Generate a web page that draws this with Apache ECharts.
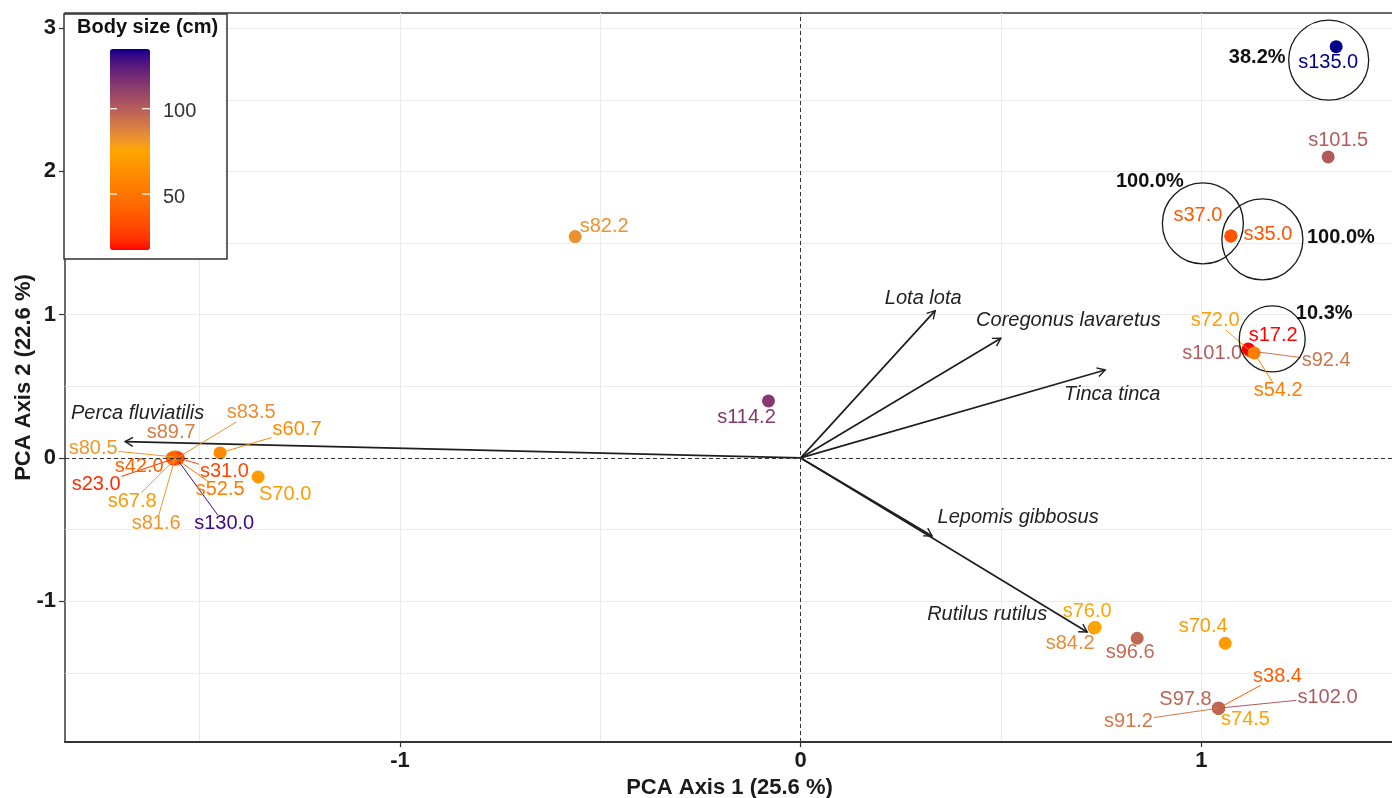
<!DOCTYPE html>
<html>
<head>
<meta charset="utf-8">
<script src="https://cdn.jsdelivr.net/npm/echarts@6/dist/echarts.min.js"></script>
<style>html,body{margin:0;padding:0;background:#fff}#chart{width:1392px;height:798px}</style>
</head>
<body>
<div id="chart"></div>
<script>
// ---------------- DATA ----------------
const sampleLabels = ['s81.6','s130.0','s80.5','s89.7','s83.5','s67.8','s52.5','s23.0','s31.0','s42.0',
  's60.7','S70.0','s82.2','s114.2','s135.0','s101.5','s37.0','s35.0',
  's101.0','s72.0','s92.4','s17.2','s54.2',
  's84.2','s76.0','s96.6','s70.4',
  's91.2','s38.4','s74.5','s102.0','S97.8'];
const bodySize = [81.6,130.0,80.5,89.7,83.5,67.8,52.5,23.0,31.0,42.0,
  60.7,70.0,82.2,114.2,135.0,101.5,37.0,35.0,
  101.0,72.0,92.4,17.2,54.2,
  84.2,76.0,96.6,70.4,
  91.2,38.4,74.5,102.0,97.8];
const pc1 = [-1.561,-1.5585,-1.5635,-1.5585,-1.556,-1.561,-1.5585,-1.566,-1.553,-1.5685,
  -1.449,-1.354,-0.5628,-0.0804,1.3364,1.3164,1.0736,1.0736,
  1.1218,1.1218,1.1218,1.1168,1.1317,
  0.7325,0.735,0.8398,1.0594,
  1.0427,1.0427,1.0427,1.0427,1.0427];
const pc2 = [0.000,0.000,0.007,0.007,0.000,-0.007,-0.007,-0.007,0.000,0.000,
  0.035,-0.133,1.545,0.398,2.871,2.101,1.550,1.550,
  0.747,0.747,0.747,0.761,0.733,
  -1.187,-1.182,-1.2586,-1.2935,
  -1.747,-1.747,-1.747,-1.747,-1.747];

const arrowNames = ['Perca fluviatilis','Lota lota','Coregonus lavaretus','Tinca tinca','Lepomis gibbosus','Rutilus rutilus'];
const arrowPC1 = [-1.686, 0.3357, 0.4996, 0.760, 0.328, 0.715];
const arrowPC2 = [0.114, 1.028, 0.8356, 0.614, -0.545, -1.215];

const highlightLabels = ['s135.0','s37.0','s35.0','s17.2'];
const highlightPct = [38.2, 100.0, 100.0, 10.3];

const xTickValues = [-1, 0, 1];
const yTickValues = [-1, 0, 1, 2, 3];
const xGridValues = [-1.5, -1, -0.5, 0, 0.5, 1];
const yGridValues = [-1.5, -1, -0.5, 0, 0.5, 1, 1.5, 2, 2.5, 3];
const legendTicks = [50, 100];
const xTitle = 'PCA Axis 1 (25.6 %)';
const yTitle = 'PCA Axis 2 (22.6 %)';
const legendTitle = 'Body size (cm)';

// ---------------- LAYOUT / STYLE ----------------
const FONT = 'Liberation Sans, Arial, sans-serif';
const X_MIN = -1.836, X_MAX = 1.4807, Y_MIN = -1.983, Y_MAX = 3.106;
const SIZE_MIN = 17.2, SIZE_MAX = 135.0;
// label offsets in pixels relative to each point (repel-like placement)
const labelOffsets = [[-19,66],[48,66],[-81,-8],[-5,-24],[74,-45],[-43,43],[44,31],[-77,26],[46,14],[-33,9],
  [77,-23],[27,17],[29,-10],[-22,16.5],[-8,16],[10,-16],[-33,-20.5],[37,-1],
  [-38,3],[-35,-30],[76,10],[25,-13],[24,38],
  [-24,16],[-8,-16],[-7,14],[-22,-17],
  [-90,13],[59,-32],[27,11],[109,-11],[-33,-9]];
const leaderLines = [1,1,1,0,1,1,1,1,1,0, 1,0,0,0,0,0,0,0, 0,1,1,0,1, 0,0,0,0, 1,1,0,1,0];
// circle: offset from label centre, radius; pct label offset from circle centre
const circleLayout = [
  {c:[0.5,-2.5], r:40, p:[-71.5,-2.5]},
  {c:[5,8], r:40.5, p:[-53,-41.5]},
  {c:[-5.5,4.5], r:40.5, p:[78.5,-1.5]},
  {c:[-1,3], r:33, p:[52,-25]}
];
const arrowLabelOffsets = [[12.5,-28],[-12,-12],[67.5,-18],[7,24],[86,-18.5],[-100,-18]];
const legendBox = {x:64, y:14, w:163, h:245, barX:110, barY:49, barW:40, barH:201};

// ---------------- COLOUR (CIELAB ramp red -> orange -> darkblue) ----------------
function s2l(c){c/=255;return c<=0.04045?c/12.92:Math.pow((c+0.055)/1.055,2.4);}
function l2s(c){const v=c<=0.0031308?12.92*c:1.055*Math.pow(c,1/2.4)-0.055;return Math.round(Math.max(0,Math.min(1,v))*255);}
function hexToLab(h){
  const r=s2l(parseInt(h.substr(1,2),16)),g=s2l(parseInt(h.substr(3,2),16)),b=s2l(parseInt(h.substr(5,2),16));
  const X=(0.4124*r+0.3576*g+0.1805*b)/0.95047,Y=(0.2126*r+0.7152*g+0.0722*b),Z=(0.0193*r+0.1192*g+0.9505*b)/1.08883;
  const f=t=>t>0.008856?Math.cbrt(t):7.787*t+16/116;
  const fx=f(X),fy=f(Y),fz=f(Z);
  return [116*fy-16,500*(fx-fy),200*(fy-fz)];
}
function labToHex(L,a,b){
  const fy=(L+16)/116,fx=fy+a/500,fz=fy-b/200;
  const fi=f=>{const c=f*f*f;return c>0.008856?c:(f-16/116)/7.787;};
  const X=0.95047*fi(fx),Y=fi(fy),Z=1.08883*fi(fz);
  const r=3.2406*X-1.5372*Y-0.4986*Z,g=-0.9689*X+1.8758*Y+0.0415*Z,bb=0.0557*X-0.2040*Y+1.0570*Z;
  const hx=v=>('0'+l2s(v).toString(16)).slice(-2);
  return '#'+hx(r)+hx(g)+hx(bb);
}
const rampLab = ['#FF0000','#FFA500','#00008B'].map(hexToLab);
function rampColor(t){
  t=Math.max(0,Math.min(1,t));
  const seg=t<0.5?0:1, u=(t-seg*0.5)/0.5;
  const A=rampLab[seg],B=rampLab[seg+1];
  return labToHex(A[0]+(B[0]-A[0])*u,A[1]+(B[1]-A[1])*u,A[2]+(B[2]-A[2])*u);
}
function sizeColor(v){return rampColor((v-SIZE_MIN)/(SIZE_MAX-SIZE_MIN));}
const rampStops=[];for(let k=0;k<=40;k++)rampStops.push(rampColor(k/40));

function textWidth(s){let w=0;for(const ch of s){w+= ch==='.'?5.56:(ch==='s'?10:(ch==='S'?13.34:11.12));}return w;}

// ---------------- CHART ----------------
const chart = echarts.init(document.getElementById('chart'));
const pointData = sampleLabels.map((n,i)=>[pc1[i],pc2[i],bodySize[i]]);
const labelData = sampleLabels.map((n,i)=>[pc1[i],pc2[i],i]);
const arrowData = arrowNames.map((n,i)=>[arrowPC1[i],arrowPC2[i],i]);

const axisTitleStyle = {fontSize:22,fontWeight:'bold',color:'#1a1a1a',fontFamily:FONT};
const tickLabelStyle = {fontSize:22,fontWeight:'bold',color:'#1a1a1a',fontFamily:FONT};
const gridLine = {show:true,lineStyle:{color:'#ebebeb',width:1}};

function legendY(v){return legendBox.barY+(SIZE_MAX-v)/(SIZE_MAX-SIZE_MIN)*legendBox.barH;}
const legendGraphics = [
  {type:'rect',shape:{x:legendBox.x,y:legendBox.y,width:legendBox.w,height:legendBox.h},style:{fill:'#fff',stroke:'#333',lineWidth:1.5},z:3},
  {type:'text',x:legendBox.x+13,y:legendBox.y+13,style:{text:legendTitle,fontSize:20,fontWeight:'bold',fontFamily:FONT,fill:'#111',align:'left',verticalAlign:'middle'},z:10}
];
legendTicks.forEach(v=>{
  const y=legendY(v);
  legendGraphics.push({type:'line',shape:{x1:legendBox.barX,y1:y,x2:legendBox.barX+7,y2:y},style:{stroke:'#fff',lineWidth:1.2},z:10});
  legendGraphics.push({type:'line',shape:{x1:legendBox.barX+legendBox.barW-8,y1:y,x2:legendBox.barX+legendBox.barW,y2:y},style:{stroke:'#fff',lineWidth:1.2},z:10});
  legendGraphics.push({type:'text',x:legendBox.barX+legendBox.barW+13,y:y+3,style:{text:String(v),fontSize:20,fontFamily:FONT,fill:'#333',align:'left',verticalAlign:'middle'},z:10});
});

const option = {
  animation:false,
  backgroundColor:'#fff',
  grid:{left:65,top:13,right:-2,bottom:56,show:true,borderColor:'#3a3a3a',borderWidth:1.5,backgroundColor:'#fff',outerBoundsMode:'none'},
  xAxis:[{
    type:'value',min:X_MIN,max:X_MAX,
    axisLine:{show:true,onZero:false,lineStyle:{color:'#333',width:2}},
    axisTick:{show:true,customValues:xTickValues,length:5,lineStyle:{color:'#333',width:1.2}},
    axisLabel:{customValues:xTickValues,margin:8,...tickLabelStyle},
    splitLine:{show:false},
    name:xTitle,nameLocation:'middle',nameGap:30,nameTextStyle:axisTitleStyle
  },{
    type:'value',min:X_MIN,max:X_MAX,position:'top',
    axisLine:{show:false},axisTick:{show:false,customValues:xGridValues},axisLabel:{show:false},
    splitLine:gridLine
  }],
  yAxis:[{
    type:'value',min:Y_MIN,max:Y_MAX,
    axisLine:{show:false,onZero:false},
    axisTick:{show:true,customValues:yTickValues,length:6,lineStyle:{color:'#333',width:1.2}},
    axisLabel:{customValues:yTickValues,margin:9,...tickLabelStyle},
    splitLine:{show:false},
    name:yTitle,nameLocation:'middle',nameGap:30,nameMoveOverlap:false,nameTextStyle:axisTitleStyle
  },{
    type:'value',min:Y_MIN,max:Y_MAX,position:'right',
    axisLine:{show:false},axisTick:{show:false,customValues:yGridValues},axisLabel:{show:false},
    splitLine:gridLine
  }],
  visualMap:{
    type:'continuous',min:SIZE_MIN,max:SIZE_MAX,dimension:2,seriesIndex:1,
    left:legendBox.barX,top:legendBox.barY,itemWidth:legendBox.barW,itemHeight:legendBox.barH,
    padding:0,calculable:false,hoverLink:false,showLabel:false,
    inRange:{color:rampStops},z:5
  },
  graphic:legendGraphics,
  series:[
    {
      type:'custom',name:'arrows',xAxisIndex:0,yAxisIndex:0,z:2,silent:true,
      data:arrowData,encode:{x:0,y:1},
      renderItem:function(params,api){
        const i=api.value(2);
        const p0=api.coord([0,0]),p1=api.coord([api.value(0),api.value(1)]);
        const ang=Math.atan2(p1[1]-p0[1],p1[0]-p0[0]);
        const L=9,A=Math.PI/6;
        const a1=[p1[0]-L*Math.cos(ang-A),p1[1]-L*Math.sin(ang-A)];
        const a2=[p1[0]-L*Math.cos(ang+A),p1[1]-L*Math.sin(ang+A)];
        const off=arrowLabelOffsets[i];
        return {type:'group',children:[
          {type:'line',shape:{x1:p0[0],y1:p0[1],x2:p1[0],y2:p1[1]},style:{stroke:'#1e1e1e',lineWidth:1.7}},
          {type:'polyline',shape:{points:[a1,p1,a2]},style:{stroke:'#1e1e1e',lineWidth:1.4,fill:null}},
          {type:'text',x:p1[0]+off[0],y:p1[1]+off[1],style:{text:arrowNames[i],fontSize:20,fontStyle:'italic',fontFamily:FONT,fill:'#222',align:'center',verticalAlign:'middle'}}
        ]};
      },
      markLine:{silent:true,symbol:['none','none'],label:{show:false},
        lineStyle:{type:[4,3],color:'#333',width:1},
        data:[{xAxis:0},{yAxis:0}]}
    },
    {
      type:'scatter',name:'samples',xAxisIndex:0,yAxisIndex:0,z:3,
      symbolSize:13,data:pointData,itemStyle:{opacity:1}
    },
    {
      type:'custom',name:'labels',xAxisIndex:0,yAxisIndex:0,z:4,silent:true,
      data:labelData,encode:{x:0,y:1},
      renderItem:function(params,api){
        const i=api.value(2);
        const p=api.coord([api.value(0),api.value(1)]);
        const off=labelOffsets[i];
        const lx=p[0]+off[0],ly=p[1]+off[1];
        const col=sizeColor(bodySize[i]);
        const ch=[];
        if(leaderLines[i]){
          const hw=textWidth(sampleLabels[i])/2+1,hh=9;
          const dx=lx-p[0],dy=ly-p[1];
          const tx=Math.abs(dx)>1e-6?hw/Math.abs(dx):Infinity;
          const ty=Math.abs(dy)>1e-6?hh/Math.abs(dy):Infinity;
          const s=Math.min(tx,ty);
          if(s<1)ch.push({type:'line',shape:{x1:p[0],y1:p[1],x2:lx-dx*s,y2:ly-dy*s},style:{stroke:col,lineWidth:1}});
        }
        ch.push({type:'text',x:lx,y:ly,style:{text:sampleLabels[i],fontSize:20,fontFamily:FONT,fill:col,align:'center',verticalAlign:'middle'}});
        const h=highlightLabels.indexOf(sampleLabels[i]);
        if(h>=0){
          const cl=circleLayout[h];
          const cx=lx+cl.c[0],cy=ly+cl.c[1];
          ch.push({type:'circle',shape:{cx:cx,cy:cy,r:cl.r},style:{fill:null,stroke:'#1a1a1a',lineWidth:1.3}});
          ch.push({type:'text',x:cx+cl.p[0],y:cy+cl.p[1],style:{text:highlightPct[h].toFixed(1)+'%',fontSize:20,fontWeight:'bold',fontFamily:FONT,fill:'#111',align:'center',verticalAlign:'middle'}});
        }
        return {type:'group',children:ch};
      }
    }
  ]
};
chart.setOption(option);
</script>
</body>
</html>
